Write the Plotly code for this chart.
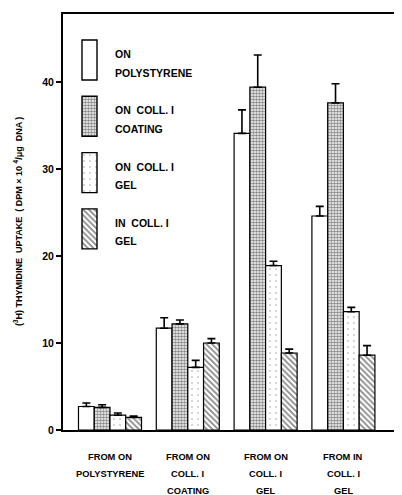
import plotly.graph_objects as go

# ---------------- data ----------------
CATEGORIES = [
    ["FROM ON", "POLYSTYRENE"],
    ["FROM ON", "COLL. I", "COATING"],
    ["FROM ON", "COLL. I", "GEL"],
    ["FROM IN", "COLL. I", "GEL"],
]
SERIES_NAMES = [
    ["ON", "POLYSTYRENE"],
    ["ON  COLL. I", "COATING"],
    ["ON  COLL. I", "GEL"],
    ["IN  COLL. I", "GEL"],
]
on_polystyrene = [2.7, 11.7, 34.1, 24.6]
on_coll_coating = [2.6, 12.2, 39.4, 37.6]
on_coll_gel = [1.7, 7.2, 18.9, 13.6]
in_coll_gel = [1.45, 10.0, 8.85, 8.6]

err_on_polystyrene = [0.4, 1.2, 2.7, 1.1]
err_on_coll_coating = [0.3, 0.45, 3.7, 2.2]
err_on_coll_gel = [0.25, 0.8, 0.5, 0.5]
err_in_coll_gel = [0.15, 0.5, 0.45, 1.1]

Y_TICKS = [0, 10, 20, 30, 40]
Y_TITLE = "(<sup>3</sup>H) THYMIDINE  UPTAKE  ( DPM × 10 <sup>4</sup>/μg  DNA )"

values = [on_polystyrene, on_coll_coating, on_coll_gel, in_coll_gel]
errors = [err_on_polystyrene, err_on_coll_coating, err_on_coll_gel, err_in_coll_gel]

# ---------------- styles ----------------
FONT = "Liberation Sans"
patterns = [
    None,
    dict(shape=".", size=3, solidity=0.6, fgcolor="#111", bgcolor="white"),
    dict(shape=".", size=6, solidity=0.06, fgcolor="#444", bgcolor="white"),
    dict(shape="\\", size=4, solidity=0.45, fgcolor="#111", bgcolor="white"),
]

# the page body has an 8px margin, so the figure is drawn 8px in/down
OFF = 8
W, H = 402 - OFF, 495 - OFF
ML, MR, MT, MB = 63 - OFF, 0, 14 - OFF, 65
PLOT_H = H - MT - MB
PLOT_W = W - ML - MR
AX_L = 63                       # page px of the y-axis
X_RANGE = [-0.604, 3.753]
PX_X = PLOT_W / (X_RANGE[1] - X_RANGE[0])
PX_Y = 8.7                      # px per data unit on y
Y_MAX = PLOT_H / PX_Y
BAR_W = 0.2025                  # width of one bar (category units)
GROUP_LEFT = -2 * BAR_W


def marker_for(i, lw):
    m = dict(color="white", line=dict(color="black", width=lw))
    if patterns[i] is not None:
        m["pattern"] = patterns[i]
    return m


fig = go.Figure()
x_idx = list(range(len(CATEGORIES)))

for i in range(4):
    fig.add_trace(go.Bar(
        x=x_idx, y=values[i],
        offset=GROUP_LEFT + i * BAR_W, width=BAR_W,
        marker=marker_for(i, 1.2),
        error_y=dict(type="data", symmetric=False, array=errors[i],
                     arrayminus=[0] * 4, color="black", thickness=1.6, width=4),
        showlegend=False,
    ))

# ---------------- custom legend (tall patterned boxes) ----------------
leg_left_px, leg_w_px = 82, 15                 # page px
box_top0, box_step, box_h = 26, 56.3, 40       # px from top of plot area
leg_x = X_RANGE[0] + (leg_left_px - AX_L) / PX_X
for i in range(4):
    top = box_top0 + i * box_step
    fig.add_trace(go.Bar(
        x=[leg_x], y=[box_h / PX_Y], base=[(PLOT_H - top - box_h) / PX_Y],
        offset=0, width=leg_w_px / PX_X,
        marker=marker_for(i, 1.4),
        showlegend=False, hoverinfo="skip",
    ))
    for j, line in enumerate(SERIES_NAMES[i]):
        ypx = top + 14 + j * 18.5
        fig.add_annotation(
            text=line, xref="paper", yref="paper",
            x=(113 - AX_L) / PLOT_W, y=1 - ypx / PLOT_H,
            xanchor="left", yanchor="middle", showarrow=False,
            font=dict(family=FONT, size=10.5, color="black", weight="bold"),
        )

# ---------------- category labels ----------------
for k, lines in enumerate(CATEGORIES):
    for j, line in enumerate(lines):
        fig.add_annotation(
            text=line, x=k, xref="x", y=0, yref="paper",
            xanchor="center", yanchor="middle", yshift=-27 - j * 17,
            showarrow=False,
            font=dict(family=FONT, size=9.3, color="black", weight="bold"),
        )

# ---------------- y-axis title ----------------
fig.add_annotation(
    text=Y_TITLE, xref="paper", yref="paper",
    x=(18 - AX_L) / PLOT_W, y=0.5, xanchor="center", yanchor="middle",
    textangle=-90, showarrow=False,
    font=dict(family=FONT, size=9, color="black", weight="bold"),
)

fig.update_layout(
    width=W, height=H,
    margin=dict(l=ML, r=MR, t=MT, b=MB, autoexpand=False),
    paper_bgcolor="white", plot_bgcolor="white",
    barmode="overlay",
    xaxis=dict(range=X_RANGE, type="linear", showticklabels=False, ticks="",
               showgrid=False, zeroline=False, showline=True, automargin=False,
               linecolor="black", linewidth=2, mirror=True),
    yaxis=dict(range=[0, Y_MAX], tickvals=Y_TICKS,
               ticks="outside", ticklen=5, tickwidth=2, tickcolor="black",
               showgrid=False, zeroline=False, showline=True, automargin=False,
               linecolor="black", linewidth=2,
               tickfont=dict(family=FONT, size=10.5, color="black", weight="bold")),
)

fig.write_html("out.html")
